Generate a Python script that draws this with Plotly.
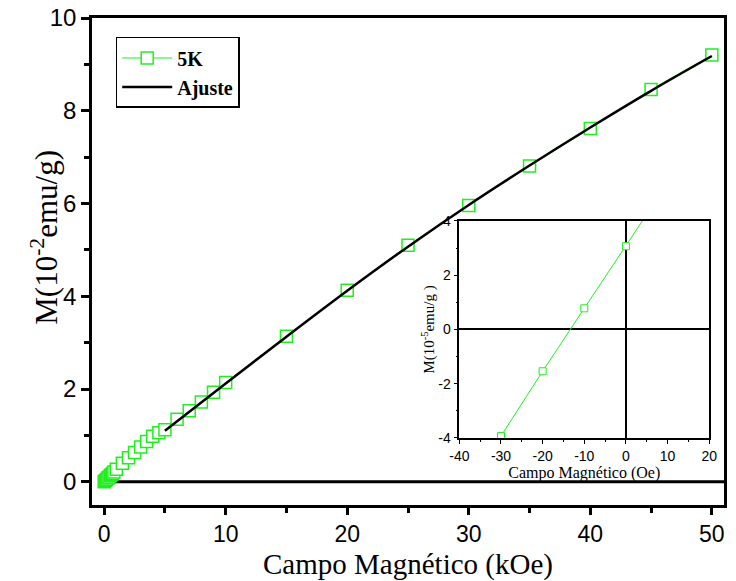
import plotly.graph_objects as go

# Magnetization at 5 K versus applied field (kOe), M in 10^-2 emu/g
field_5k = [0, 0.1, 0.2, 0.3, 0.4, 0.5, 0.6, 0.7, 0.8, 1.0,
            1.5, 2.0, 2.5, 3.0, 3.5, 4.0, 4.5, 5.0,
            6, 7, 8, 9, 10, 15, 20, 25, 30, 35, 40, 45, 50]
m_5k = [0.0, 0.03, 0.05, 0.08, 0.10, 0.13, 0.16, 0.18, 0.21, 0.27,
        0.40, 0.52, 0.63, 0.75, 0.87, 0.98, 1.06, 1.12,
        1.35, 1.53, 1.72, 1.93, 2.14, 3.14, 4.13, 5.10, 5.96, 6.81, 7.62, 8.46, 9.20]

# Fitted curve
fit_field = [5, 10, 15, 20, 25, 30, 35, 40, 45, 50]
fit_m = [1.10, 2.12, 3.13, 4.12, 5.07, 5.97, 6.82, 7.64, 8.43, 9.18]

# Low-field detail (Oe), M in 10^-5 emu/g
inset_field = [-30, -20, -10, 0, 10]
inset_m = [-3.93, -1.54, 0.78, 3.07, 5.40]

# Inset tick labels (plain hyphen-minus)
inset_xticks = [-40, -30, -20, -10, 0, 10, 20]
inset_xlabels = ["-40", "-30", "-20", "-10", "0", "10", "20"]
inset_yticks = [-4, -2, 0, 2, 4]
inset_ylabels = ["-4", "-2", "0", "2", "4"]

GREEN = "#1ef01e"
SERIF = "Liberation Serif, Times New Roman, serif"
SANS = "Liberation Sans, Arial, sans-serif"

fig = go.Figure()

fig.add_trace(go.Scatter(
    x=field_5k, y=m_5k, name="5K", mode="lines+markers",
    line=dict(color=GREEN, width=1),
    marker=dict(symbol="square", size=12, color="white",
                line=dict(color=GREEN, width=1.5)),
    xaxis="x", yaxis="y",
))
fig.add_trace(go.Scatter(
    x=fit_field, y=fit_m, name="Ajuste", mode="lines",
    line=dict(color="black", width=2.5, shape="spline"),
    xaxis="x", yaxis="y",
))
fig.add_trace(go.Scatter(
    x=inset_field, y=inset_m, mode="lines+markers", showlegend=False,
    line=dict(color=GREEN, width=1),
    marker=dict(symbol="square", size=7, color="white",
                line=dict(color=GREEN, width=1)),
    xaxis="x2", yaxis="y2",
))

# M = 0 reference line on the main panel
fig.add_shape(type="line", xref="x", yref="y", x0=0, x1=51, y0=0, y1=0,
              line=dict(color="black", width=3), layer="below")

# Rotated y-axis title for the main panel
fig.add_annotation(text="M(10<sup>-2</sup>emu/g)", xref="paper", yref="paper",
                   x=-0.075, y=0.55, textangle=-90, showarrow=False,
                   xanchor="center", yanchor="middle",
                   font=dict(family=SERIF, size=31, color="black"))

main_axis = dict(
    showline=True, linecolor="black", linewidth=2.5, mirror=True,
    showgrid=False, zeroline=False,
    ticks="outside", tickwidth=2.5, tickcolor="black",
)
inset_axis = dict(
    showline=True, linecolor="black", linewidth=1.5, mirror=True,
    showgrid=False, zeroline=True, zerolinecolor="black", zerolinewidth=1.5,
    ticks="outside", ticklen=4, tickwidth=1.2, tickcolor="black",
    tickfont=dict(family=SANS, size=14, color="black"),
)

fig.update_layout(
    width=736, height=581,
    margin=dict(l=92, r=4, t=18, b=76),
    paper_bgcolor="white", plot_bgcolor="white",
    xaxis=dict(**main_axis, ticklen=7, range=[-1, 51], tick0=0, dtick=10,
               tickfont=dict(family=SANS, size=23, color="black"),
               minor=dict(dtick=5, ticks="outside", ticklen=5, tickwidth=2.5, tickcolor="black"),
               title=dict(text="Campo Magnético (kOe)", standoff=9,
                          font=dict(family=SERIF, size=29, color="black"))),
    yaxis=dict(**main_axis, ticklen=8, range=[-0.5, 10], tick0=0, dtick=2,
               tickfont=dict(family=SANS, size=24, color="black"),
               minor=dict(dtick=1, ticks="outside", ticklen=5, tickwidth=2.5, tickcolor="black")),
    xaxis2=dict(**inset_axis, domain=[0.58125, 0.9766], anchor="y2",
                range=[-40, 20], tickmode="array",
                tickvals=inset_xticks, ticktext=inset_xlabels,
                minor=dict(dtick=5, tick0=0, ticks="outside", ticklen=2, tickwidth=1.2, tickcolor="black"),
                title=dict(text="Campo Magnético (Oe)", standoff=0,
                           font=dict(family=SERIF, size=16, color="black"))),
    yaxis2=dict(**inset_axis, domain=[0.1376, 0.5832], anchor="x2",
                range=[-4, 4], tickmode="array",
                tickvals=inset_yticks, ticktext=inset_ylabels,
                minor=dict(dtick=1, tick0=0, ticks="outside", ticklen=2, tickwidth=1.2, tickcolor="black"),
                title=dict(text="M(10<sup>-5</sup>emu/g )", standoff=0,
                           font=dict(family=SERIF, size=15, color="black"))),
    legend=dict(x=0.0375, y=0.961, xanchor="left", yanchor="top",
                bgcolor="white", bordercolor="black", borderwidth=1.5,
                itemwidth=50,
                font=dict(family=SERIF, size=20, color="black", weight="bold")),
)

fig.write_html("out.html")
